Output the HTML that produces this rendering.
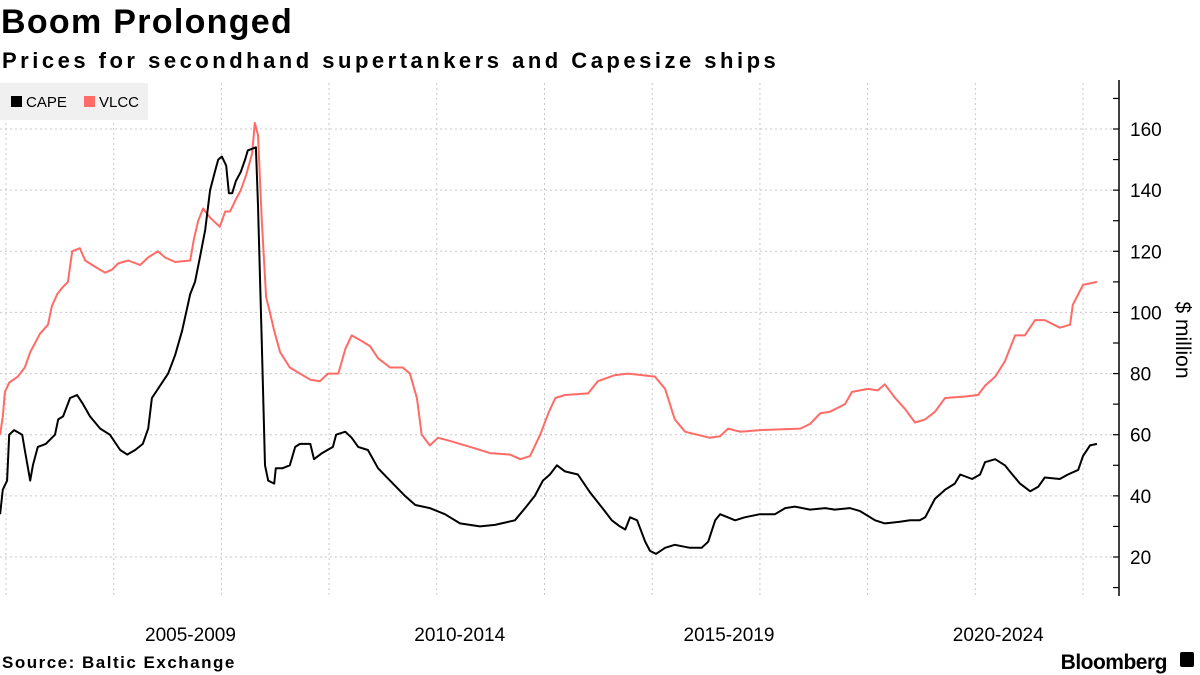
<!DOCTYPE html>
<html><head><meta charset="utf-8"><style>
body{margin:0;background:#fff;width:1200px;height:675px;overflow:hidden;font-family:"Liberation Sans",sans-serif;}
svg{display:block}
</style></head><body>
<svg width="1200" height="675" id="chart">
<text x="1" y="33" font-size="34" font-weight="bold" fill="#000" letter-spacing="1.3">Boom Prolonged</text>
<text x="2" y="68" font-size="22" font-weight="bold" fill="#000" letter-spacing="3.5">Prices for secondhand supertankers and Capesize ships</text>
<g id="grid"></g>
<g id="yaxis"></g>
<g id="xaxis"></g>
<g id="series"></g>
<g>
<rect x="0" y="83" width="148" height="37" fill="#f0f0f0"/>
<g><rect x="11" y="96" width="11" height="11" fill="#000"/><text x="26" y="107" font-size="15" fill="#000">CAPE</text></g>
<g><rect x="84" y="96" width="11" height="11" fill="#ff6b66"/><text x="99" y="107" font-size="15" fill="#000">VLCC</text></g>
</g>
<text transform="translate(1176,340) rotate(90)" text-anchor="middle" font-size="21" fill="#000">$ million</text>
<text x="2" y="668" font-size="17" font-weight="bold" fill="#000" letter-spacing="1.5">Source: Baltic Exchange</text>
<text x="1167" y="669" text-anchor="end" font-size="21" font-weight="bold" fill="#000" letter-spacing="-0.5">Bloomberg</text>
<rect x="1180" y="652" width="14" height="15" rx="2" fill="#000"/>
</svg>
<script>
const yTicks=[20,40,60,80,100,120,140,160];
const xLabels=["2005-2009","2010-2014","2015-2019","2020-2024"];
const xLabelStarts=[2005,2010,2015,2020];
const gridYears=[2004,2006,2008,2010,2012,2014,2016,2018,2020,2022,2024];
const capeDates=[2003.89,2003.94,2004.02,2004.06,2004.15,2004.30,2004.35,2004.45,2004.50,2004.59,2004.74,2004.91,2004.97,2005.06,2005.19,2005.32,2005.43,2005.56,2005.75,2005.93,2006.12,2006.25,2006.40,2006.54,2006.64,2006.71,2006.86,2007.01,2007.14,2007.27,2007.42,2007.51,2007.60,2007.70,2007.79,2007.88,2007.94,2008.01,2008.09,2008.14,2008.20,2008.27,2008.36,2008.44,2008.49,2008.64,2008.68,2008.75,2008.81,2008.87,2008.98,2009.01,2009.13,2009.27,2009.37,2009.46,2009.65,2009.72,2009.87,2010.07,2010.13,2010.30,2010.42,2010.54,2010.72,2010.91,2011.13,2011.41,2011.60,2011.87,2012.15,2012.43,2012.80,2013.08,2013.45,2013.64,2013.82,2013.97,2014.10,2014.23,2014.38,2014.62,2014.85,2015.12,2015.25,2015.40,2015.50,2015.59,2015.72,2015.87,2015.96,2016.07,2016.24,2016.42,2016.70,2016.92,2017.04,2017.17,2017.26,2017.54,2017.72,2018.00,2018.28,2018.47,2018.65,2018.93,2019.21,2019.39,2019.67,2019.86,2020.14,2020.32,2020.60,2020.79,2020.97,2021.07,2021.25,2021.44,2021.62,2021.72,2021.94,2022.09,2022.18,2022.37,2022.55,2022.64,2022.83,2023.02,2023.17,2023.29,2023.57,2023.72,2023.91,2024.00,2024.13,2024.26];
const capeValues=[34,42,45,60,61.5,60,55,45,50,56,57,60,65,66,72,73,70,66,62,60,55,53.5,55,57,62,72,76,80,86,94,106,110,118,127,140,146,150,151,148,139,139,143,146,150,153,154,135,90,50,45,44,49,49,50,56,57,57,52,54,56,60,61,59,56,55,49,45,40,37,36,34,31,30,30.5,32,36,40,45,47,50,48,47,41,35,32,30,29,33,32,25,22,21,23,24,23,23,25,32,34,32,33,34,34,36,36.5,35.5,36,35.5,36,35,32,31,31.5,32,32,33,39,42,44,47,45.5,47,51,52,50,48,44,41.5,43,46,45.5,47,48.5,53,56.5,57];
const vlccDates=[2003.89,2003.94,2003.98,2004.06,2004.22,2004.35,2004.45,2004.63,2004.78,2004.85,2004.95,2005.04,2005.15,2005.23,2005.37,2005.47,2005.65,2005.84,2005.97,2006.08,2006.27,2006.49,2006.64,2006.82,2006.95,2007.14,2007.42,2007.49,2007.57,2007.66,2007.79,2007.97,2008.07,2008.16,2008.27,2008.36,2008.46,2008.57,2008.62,2008.68,2008.75,2008.83,2008.90,2008.98,2009.09,2009.27,2009.46,2009.65,2009.83,2009.98,2010.17,2010.30,2010.42,2010.57,2010.76,2010.91,2011.13,2011.37,2011.50,2011.63,2011.72,2011.87,2012.02,2012.24,2012.62,2012.99,2013.36,2013.55,2013.73,2013.92,2014.07,2014.20,2014.38,2014.81,2014.99,2015.31,2015.55,2016.05,2016.24,2016.42,2016.61,2017.07,2017.26,2017.41,2017.63,2018.00,2018.75,2018.93,2019.12,2019.30,2019.58,2019.71,2020.01,2020.19,2020.32,2020.51,2020.69,2020.88,2021.07,2021.25,2021.44,2021.81,2022.05,2022.18,2022.37,2022.55,2022.74,2022.92,2023.11,2023.29,2023.57,2023.76,2023.81,2024.00,2024.26];
const vlccValues=[60,66,74,77,79,82,87,93,96,102,106,108,110,120,121,117,115,113,114,116,117,115.5,118,120,118,116.5,117,124,130,134,131,128,133,133,137,140,145,152,162,158,130,105,100,94,87,82,80,78,77.5,80,80,88,92.5,91,89,85,82,82,80,72,60,56.5,59,58,56,54,53.5,52,53,60,67,72,73,73.5,77.5,79.5,80,79,75,65,61,59,59.5,62,61,61.5,62,63.5,67,67.5,70,74,75,74.5,76.5,72,68.5,64,65,67.5,72,72.5,73,76,79,84,92.5,92.5,97.5,97.5,95,96,102.5,109,110];

const NS="http://www.w3.org/2000/svg";
const xs=t=>6+(t-2004)*53.85;
const ys=v=>557-(v-20)*3.0571;
function mk(tag,attrs,parent){const e=document.createElementNS(NS,tag);for(const k in attrs)e.setAttribute(k,attrs[k]);parent.appendChild(e);return e;}
const grid=document.getElementById('grid'),yax=document.getElementById('yaxis'),xax=document.getElementById('xaxis'),ser=document.getElementById('series');
yTicks.forEach(v=>{
  const l=mk('line',{x1:0,x2:1117,y1:ys(v),y2:ys(v),stroke:'#c8c8c8','stroke-dasharray':'2,3','stroke-width':1},grid);
  
  
  const t=mk('text',{x:1130,y:ys(v)+7,'font-size':19,fill:'#000'},yax);
  t.textContent=v;
  
  
});
gridYears.forEach(y=>{
  const l=mk('line',{x1:xs(y),x2:xs(y),y1:83,y2:596,stroke:'#c8c8c8','stroke-dasharray':'2,3','stroke-width':1},grid);
  
  
});
const ax=mk('line',{x1:1119,x2:1119,y1:80,y2:596,stroke:'#000','stroke-width':1.5},yax);


for(let v=10;v<=170;v+=10){
  const tk=mk('line',{x1:1113,x2:1119,y1:ys(v),y2:ys(v),stroke:'#000','stroke-width':1.2},yax);
  
  
}
xLabels.forEach((s,i)=>{
  const t=mk('text',{x:xs(xLabelStarts[i]+2.5)-4,y:641,'font-size':19,fill:'#000','text-anchor':'middle'},xax);
  t.textContent=s;
  
  
});
function line(d,v,color,name){
  const p=d.map((t,i)=>(i?'L':'M')+xs(t).toFixed(1)+','+ys(v[i]).toFixed(1)).join('');
  const e=mk('path',{d:p,fill:'none',stroke:color,'stroke-width':2,'stroke-linejoin':'round'},ser);
  
  
}
line(vlccDates,vlccValues,'#ff6b66','vlcc-line');
line(capeDates,capeValues,'#000','cape-line');
</script>
</body></html>
